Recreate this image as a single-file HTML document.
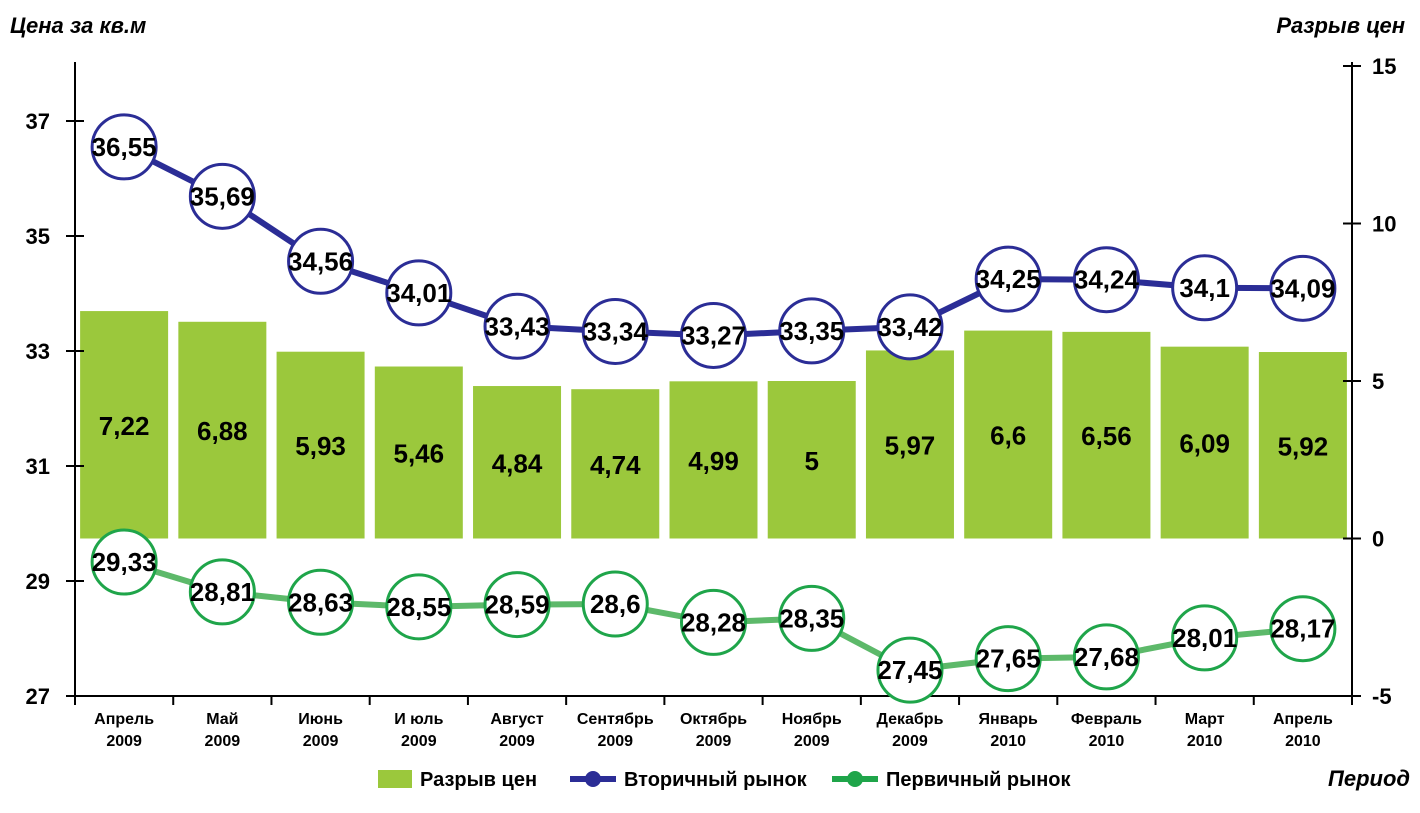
<!DOCTYPE html>
<html><head><meta charset="utf-8"><style>
body{margin:0;background:#fff;}
svg text{font-family:"Liberation Sans Narrow","Liberation Sans",sans-serif;font-weight:bold;}
</style></head><body>
<svg id="chart" width="1420" height="808" xmlns="http://www.w3.org/2000/svg"></svg>
<script>
const categories=["Апрель|2009","Май|2009","Июнь|2009","И юль|2009","Август|2009","Сентябрь|2009","Октябрь|2009","Ноябрь|2009","Декабрь|2009","Январь|2010","Февраль|2010","Март|2010","Апрель|2010"];
const gapValues=[7.22,6.88,5.93,5.46,4.84,4.74,4.99,5,5.97,6.6,6.56,6.09,5.92];
const gapLabels=["7,22","6,88","5,93","5,46","4,84","4,74","4,99","5","5,97","6,6","6,56","6,09","5,92"];
const secondaryValues=[36.55,35.69,34.56,34.01,33.43,33.34,33.27,33.35,33.42,34.25,34.24,34.1,34.09];
const secondaryLabels=["36,55","35,69","34,56","34,01","33,43","33,34","33,27","33,35","33,42","34,25","34,24","34,1","34,09"];
const primaryValues=[29.33,28.81,28.63,28.55,28.59,28.6,28.28,28.35,27.45,27.65,27.68,28.01,28.17];
const primaryLabels=["29,33","28,81","28,63","28,55","28,59","28,6","28,28","28,35","27,45","27,65","27,68","28,01","28,17"];
const leftTicks=[27,29,31,33,35,37];
const rightTicks=[-5,0,5,10,15];

const svg=document.getElementById('chart');
const NS="http://www.w3.org/2000/svg";
const X0=75,X1=1352,YB=696;
const band=(X1-X0)/categories.length;
const xc=i=>X0+band*(i+0.5);
const yL=v=>YB-(v-27)*57.5;
const yR=v=>YB-(v+5)*31.5;
function mk(tag,attrs,parent){const e=document.createElementNS(NS,tag);for(const k in attrs)e.setAttribute(k,attrs[k]);(parent||svg).appendChild(e);return e;}
function txt(x,y,s,size,anchor,extra,parent){const t=mk('text',Object.assign({x:x,y:y,'font-size':size,'text-anchor':anchor||'middle'},extra||{}),parent);t.textContent=s;return t;}

// bars
const barsG=mk('g',{});


gapValues.forEach((v,i)=>{
  const r=mk('rect',{x:xc(i)-44,y:yR(v),width:88,height:yR(0)-yR(v),fill:'#9bc83c'},barsG);
  
  
  const t=txt(xc(i),(yR(v)+yR(0))/2+10,gapLabels[i],26,'middle',{},barsG);
  
  
});

// axes
const ax=mk('g',{stroke:'#000','stroke-width':2,fill:'none'});


mk('line',{x1:X0,y1:62,x2:X0,y2:YB},ax);
mk('line',{x1:X1,y1:62,x2:X1,y2:YB},ax);
mk('line',{x1:X0-3,y1:YB,x2:X1+3,y2:YB},ax);
leftTicks.forEach(v=>{mk('line',{x1:X0-9,y1:yL(v),x2:X0+9,y2:yL(v)},ax);
  const t=txt(X0-25,yL(v)+8,String(v),22,'end',{fill:'#000',stroke:'none'});
  
  });
rightTicks.forEach(v=>{mk('line',{x1:X1-9,y1:yR(v),x2:X1+9,y2:yR(v)},ax);
  const t=txt(X1+20,yR(v)+8,String(v),22,'start',{fill:'#000',stroke:'none'});
  
  });
for(let i=0;i<=categories.length;i++){mk('line',{x1:X0+band*i,y1:YB,x2:X0+band*i,y2:YB+9},ax);}
categories.forEach((c,i)=>{const p=c.split('|');
  const t=txt(xc(i),724,p[0],16,'middle');
  const t2=txt(xc(i),746,p[1],16,'middle');});

function series(vals,labels,color,lineColor,name){
  const g=mk('g',{});
  
  
  mk('polyline',{points:vals.map((v,i)=>xc(i)+','+yL(v)).join(' '),fill:'none',stroke:lineColor,'stroke-width':6},g);
  vals.forEach((v,i)=>{
    const c=mk('circle',{cx:xc(i),cy:yL(v),r:32,fill:'#fff',stroke:color,'stroke-width':3},g);
    
    
    const t=txt(xc(i),yL(v)+9,labels[i],26,'middle',{},g);
    
    
  });
}
series(secondaryValues,secondaryLabels,'#2b2d96','#2b2d96','secondary-market');
series(primaryValues,primaryLabels,'#1fa54a','#5db96a','primary-market');

// titles
const t1=txt(10,33,'Цена за кв.м',22,'start',{'font-style':'italic'});
const t2=txt(1405,33,'Разрыв цен',22,'end',{'font-style':'italic'});
const t3=txt(1410,786,'Период',22,'end',{'font-style':'italic'});

// legend
const lg=mk('g',{});


const lr=mk('rect',{x:378,y:770,width:34,height:18,fill:'#9bc83c'},lg);
txt(420,786,'Разрыв цен',20,'start',{},lg);
mk('line',{x1:570,y1:779,x2:616,y2:779,stroke:'#2b2d96','stroke-width':6},lg);
mk('circle',{cx:593,cy:779,r:8,fill:'#2b2d96'},lg);
txt(624,786,'Вторичный рынок',20,'start',{},lg);
mk('line',{x1:832,y1:779,x2:878,y2:779,stroke:'#1fa54a','stroke-width':6},lg);
mk('circle',{cx:855,cy:779,r:8,fill:'#1fa54a'},lg);
txt(886,786,'Первичный рынок',20,'start',{},lg);
</script>
</body></html>
